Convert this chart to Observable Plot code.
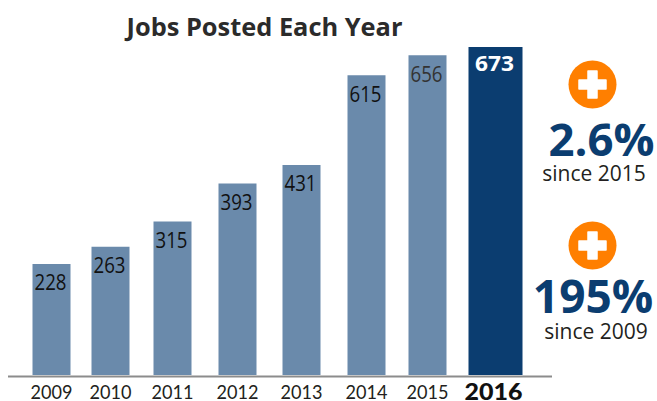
<!DOCTYPE html>
<html>
<head>
<meta charset="utf-8">
<style>
html,body{margin:0;padding:0;background:#fff;}
svg{display:block;}
</style>
<script src="https://cdn.jsdelivr.net/npm/d3@7"></script>
<script src="https://cdn.jsdelivr.net/npm/@observablehq/plot@0.6"></script>
</head>
<body>
<div id="chart"></div>
<script>
const years = [2009, 2010, 2011, 2012, 2013, 2014, 2015, 2016];
const jobs = [228, 263, 315, 393, 431, 615, 656, 673];
const chartTitle = "Jobs Posted Each Year";
const growthLabels = ["2.6%", "195%"];
const sinceLabels = ["since 2015", "since 2009"];

const rows = years.map((year, i) => ({year, value: jobs[i]}));
const past = rows.filter(d => d.year < 2016);
const latest = rows.filter(d => d.year === 2016);

const FONT = "'Open Sans', 'Noto Sans', sans-serif";
const LATO = "Lato, 'Open Sans', sans-serif";
const INK = "#231f20";
const MUTED = "#6a8aab";
const NAVY = "#0b3d70";
const ORANGE = "#ff7f00";

const chart = Plot.plot({
  width: 657,
  height: 401,
  marginTop: 0, marginBottom: 0, marginLeft: 8, marginRight: 105,
  style: {fontFamily: FONT, background: "#fff"},
  x: {type: "linear", domain: years, range: [51, 110, 172, 237, 301, 366, 427, 495], axis: null},
  y: {domain: [0, 673], range: [375, 47], axis: null},
  marks: [
    Plot.ruleX(past, {x: "year", y1: 0, y2: "value", stroke: MUTED, strokeWidth: 38}),
    Plot.ruleX(latest, {x: "year", y1: 0, y2: "value", stroke: NAVY, strokeWidth: 54}),
    Plot.ruleY([0], {stroke: "#8c8c8c", strokeWidth: 2, dy: 1}),

    Plot.text(past, {x: "year", y: "value", text: d => String(d.value), dy: 19, dx: -1, className: "vals",
      fill: d => d.year === 2015 ? "#333333" : "#111111", fontSize: 22, lineAnchor: "middle"}),
    Plot.text(latest, {x: "year", y: "value", text: d => String(d.value), dy: 17, dx: -1, className: "valbold",
      fill: "#fff", fontSize: 21.5, fontWeight: 700, lineAnchor: "middle"}),

    Plot.text(past, {x: "year", y: () => 0, text: d => String(d.year), dy: 17.5, className: "yrs",
      fontFamily: LATO, fill: INK, fontSize: 19.5, lineAnchor: "middle"}),
    Plot.text(latest, {x: "year", y: () => 0, text: d => String(d.year), dy: 17, dx: -2, className: "yrbold",
      fontFamily: LATO, fill: "#111111", fontSize: 22, fontWeight: 900, lineAnchor: "middle"}),

    Plot.text([chartTitle], {frameAnchor: "top-left", dx: 256, dy: 27, fill: "#2b2b2b", textAnchor: "middle",
      fontSize: 25.4, fontWeight: 700, lineAnchor: "middle"}),

    Plot.dot([0], {frameAnchor: "top-left", dx: 584, dy: 84, r: 24, fill: ORANGE}),
    Plot.dot([0], {frameAnchor: "top-left", dx: 584, dy: 245, r: 24, fill: ORANGE}),
    Plot.dot([0], {frameAnchor: "top-left", dx: 584, dy: 84, r: 11.35, symbol: "cross", fill: "#fff", stroke: "#fff", strokeWidth: 1.5, strokeLinejoin: "round"}),
    Plot.dot([0], {frameAnchor: "top-left", dx: 584, dy: 245, r: 11.35, symbol: "cross", fill: "#fff", stroke: "#fff", strokeWidth: 1.5, strokeLinejoin: "round"}),

    Plot.text([growthLabels[0]], {frameAnchor: "top-left", dx: 593, dy: 141, fill: NAVY, textAnchor: "middle",
      fontSize: 45.5, fontWeight: 700, lineAnchor: "middle"}),
    Plot.text([sinceLabels[0]], {frameAnchor: "top-left", dx: 585.5, dy: 174, fill: INK, textAnchor: "middle",
      fontSize: 21, lineAnchor: "middle"}),
    Plot.text([growthLabels[1]], {frameAnchor: "top-left", dx: 584.5, dy: 298, fill: NAVY, textAnchor: "middle",
      fontSize: 46, fontWeight: 700, lineAnchor: "middle"}),
    Plot.text([sinceLabels[1]], {frameAnchor: "top-left", dx: 587.5, dy: 332, fill: INK, textAnchor: "middle",
      fontSize: 21, lineAnchor: "middle"})
  ]
});
const fit = (cls, len) => chart.querySelectorAll("." + cls + " text").forEach(t => {
  t.setAttribute("textLength", len);
  t.setAttribute("lengthAdjust", "spacingAndGlyphs");
});
fit("vals", 32);
fit("valbold", 39);
fit("yrs", 42);
fit("yrbold", 58);
document.getElementById("chart").append(chart);
</script>
</body>
</html>
